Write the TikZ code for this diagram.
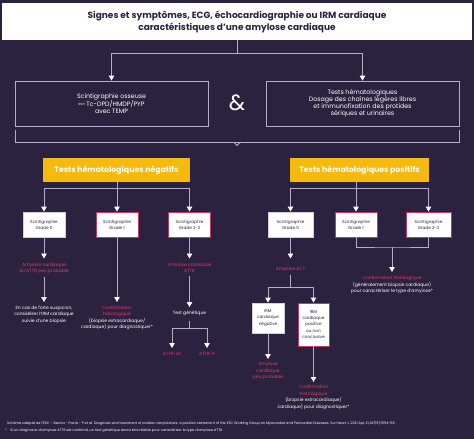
\documentclass[tikz,border=0pt]{standalone}
\usepackage{fontspec}
\setmainfont{Poppins}
\usetikzlibrary{arrows.meta}
\definecolor{bg}{HTML}{2B2240}
\definecolor{ln}{HTML}{B5ADC8}
\definecolor{pk}{HTML}{E23C66}
\definecolor{yl}{HTML}{F6B90E}
\definecolor{bd}{HTML}{C23A62}
\definecolor{tx}{HTML}{2B2240}
\tikzset{
  lnk/.style={draw=ln, line width=0.9pt},
  arr/.style={lnk, -{Triangle[width=5.5pt,length=5pt,color=white,fill=white]}},
  bigbox/.style={draw=ln, line width=0.9pt, minimum width=193pt, minimum height=45pt, align=center, text=white, font=\fontsize{6.3}{6.9}\selectfont, inner sep=0pt},
  ybox/.style={fill=yl, minimum height=24pt, text=white, font=\bfseries\fontsize{7.8}{9}\selectfont, inner sep=0pt},
  gbox/.style={fill=white, draw=#1, line width=0.9pt, minimum width=42pt, minimum height=25pt, align=center, text=tx, font=\fontsize{4.2}{6}\selectfont, inner sep=0pt},
  ibox/.style={fill=white, draw=#1, line width=0.9pt, minimum width=32pt, align=center, text=tx, font=\fontsize{4.2}{6.4}\selectfont, inner sep=0pt},
  pkt/.style={text=pk, align=center, font=\fontsize{4.5}{6.6}\selectfont, inner sep=0pt, anchor=north},
  wt/.style={text=white, align=center, font=\fontsize{4.5}{6.6}\selectfont, inner sep=0pt, anchor=north},
  foot/.style={text=white, anchor=west, font=\fontsize{3.45}{4}\selectfont, inner sep=0pt}
}
\begin{document}
\begin{tikzpicture}[x=1pt,y=-1pt]
\fill[bg] (0,0) rectangle (474,439);
\useasboundingbox (0,0) rectangle (474,439);

% title
\node[fill=white, minimum width=470pt, minimum height=37pt, align=center, text=tx,
  font=\bfseries\fontsize{9}{12}\selectfont, inner sep=0pt] (top) at (237,21.5)
  {Signes et symptômes, ECG, échocardiographie ou IRM cardiaque\\caractéristiques d’une amylose cardiaque};

\node[bigbox] (A) at (111.5,103.5) {Scintigraphie osseuse\\{\fontsize{3}{3}\selectfont\raisebox{1.2pt}{99m}}\,Tc-DPD/HMDP/PYP\\avec TEMP};
\node[bigbox] (B) at (362.5,103.5) {Tests hématologiques\\Dosage des chaînes légères libres\\et immunofixation des protides\\sériques et urinaires};
\node[text=white, font=\fontsize{22}{22}\selectfont, inner sep=0pt] (amp) at (237,103) {\&};

\draw[arr] (top.south) -- ++(0,13) -| (A.north);
\draw[arr] (top.south) -- ++(0,13) -| (B.north);

% bracket
\coordinate (bl) at (15,130);
\coordinate (br) at (459,130);
\coordinate (bm) at (237,142);
\draw[lnk] (bl) -- (15,142) -- (459,142) -- (br);
\draw[lnk] ([xshift=-3.5pt]bm) -- ([yshift=-3.5pt]bm) -- ([xshift=3.5pt]bm);

% yellow
\node[ybox, minimum width=147pt] (LY) at (116.5,170) {Tests hématologiques négatifs};
\node[ybox, minimum width=139pt] (RY) at (359.5,170) {Tests hématologiques positifs};

% grade boxes left
\node[gbox=ln!60] (L1) at (44,224.5) {Scintigraphie\\Grade 0};
\node[gbox=bd] (L2) at (117,224.5) {Scintigraphie\\Grade 1};
\node[gbox=bd] (L3) at (189.5,224.5) {Scintigraphie\\Grade 2-3};
\draw[arr] ([xshift=0.5pt]LY.south) -- ++(0,6) -| (L1.north);
\draw[arr] ([xshift=0.5pt]LY.south) -- (L2.north);
\draw[arr] ([xshift=0.5pt]LY.south) -- ++(0,6) -| (L3.north);

% grade boxes right
\node[gbox=ln!60, minimum width=45pt] (R1) at (290.5,224.5) {Scintigraphie\\Grade 0};
\node[gbox=bd] (R2) at (356,224.5) {Scintigraphie\\Grade 1};
\node[gbox=bd, minimum width=45pt] (R3) at (428.5,224.5) {Scintigraphie\\Grade 2-3};
\coordinate (RYs) at (356,182);
\draw[arr] (RYs) -- ++(0,6) -| (R1.north);
\draw[arr] (RYs) -- (R2.north);
\draw[arr] (RYs) -- ++(0,6) -| (R3.north);

% left column 1
\node[pkt] (T1) at (44,262.5) {Amylose cardiaque\\AL/ATTR peu probable};
\draw[arr] (L1.south) -- ([yshift=4pt]T1.north);
\node[wt] (T1b) at (44,305.5) {En cas de forte suspicion,\\considérer l’IRM cardiaque\\suivie d’une biopsie};
\draw[arr] ([yshift=-3pt]T1.south) -- ([yshift=3.5pt]T1b.north);

% left column 2
\node[wt] (M1) at (117,305.5) {\textcolor{pk}{Confirmation}\\\textcolor{pk}{histologique}\\(biopsie extracardiaque/\\cardiaque) pour diagnostiquer*};
\draw[arr] (L2.south) -- ([yshift=3.5pt]M1.north);

% left column 3
\node[pkt] (R1t) at (189.5,262.5) {Amylose cardiaque\\ATTR};
\draw[arr] (L3.south) -- ([yshift=4pt]R1t.north);
\node[wt] (TG) at (189.5,311) {Test génétique};
\draw[arr] ([yshift=-3pt]R1t.south) -- ([yshift=4pt]TG.north);
\node[pkt] (WT) at (172,352) {ATTR-wt};
\node[pkt] (HT) at (207,352) {ATTR-h};
\draw[arr] ([yshift=-5pt]TG.south) -- ++(0,7) -| ([yshift=4pt]WT.north);
\draw[arr] ([yshift=-5pt]TG.south) -- ++(0,7) -| ([yshift=4pt]HT.north);

% right column 1
\node[pkt] (AL) at (290.5,266.5) {Amylose AL ?};
\draw[arr] (R1.south) -- ([yshift=8pt]AL.north);
\node[ibox=ln!60, minimum height=30pt] (I1) at (268,318) {IRM\\cardiaque\\négative};
\node[ibox=bd, minimum width=31pt, minimum height=43pt] (I2) at (313.5,324.5) {IRM\\cardiaque\\positive\\ou non\\conclusive};
\draw[arr] ([yshift=-4pt]AL.south) -- (290.5,287) -| (I1.north);
\draw[arr] ([yshift=-4pt]AL.south) -- (290.5,287) -| (I2.north);
\node[pkt] (PP) at (268,362) {Amylose\\cardiaque\\peu probable};
\draw[arr] (I1.south) -- ([yshift=3pt]PP.north);
\node[wt] (M2) at (313.5,385) {\textcolor{pk}{Confirmation}\\\textcolor{pk}{histologique}\\(biopsie extracardiaque/\\cardiaque) pour diagnostiquer*};
\draw[arr] (I2.south) -- ([yshift=3pt]M2.north);

% right merge
\coordinate (mrg) at (392,247);
\draw[lnk] (R2.south) |- (mrg) -| (R3.south);
\node[wt] (CH) at (392,276) {\textcolor{pk}{Confirmation histologique}\\(généralement biopsie cardiaque)\\pour caractériser le type d’amylose*};
\draw[arr] (mrg) -- ([yshift=4pt]CH.north);

% footnotes
\node[foot] (f1) at (7,423) {Schéma adapté de l’ESC - Garcia - Pavia - P et al. Diagnosis and treatment of cardiac amyloidosis: a position statement of the ESC Working Group on Myocardial and Pericardial Diseases. Eur Heart J. 2021 Apr 21;42(16):1554-68};
\node[foot] (f2) at (5,431) {*\quad Si un diagnostic d’amylose ATTR est confirmé, un test génétique devra être réalisé pour caractériser le type d’amylose ATTR.};
\end{tikzpicture}
\end{document}
